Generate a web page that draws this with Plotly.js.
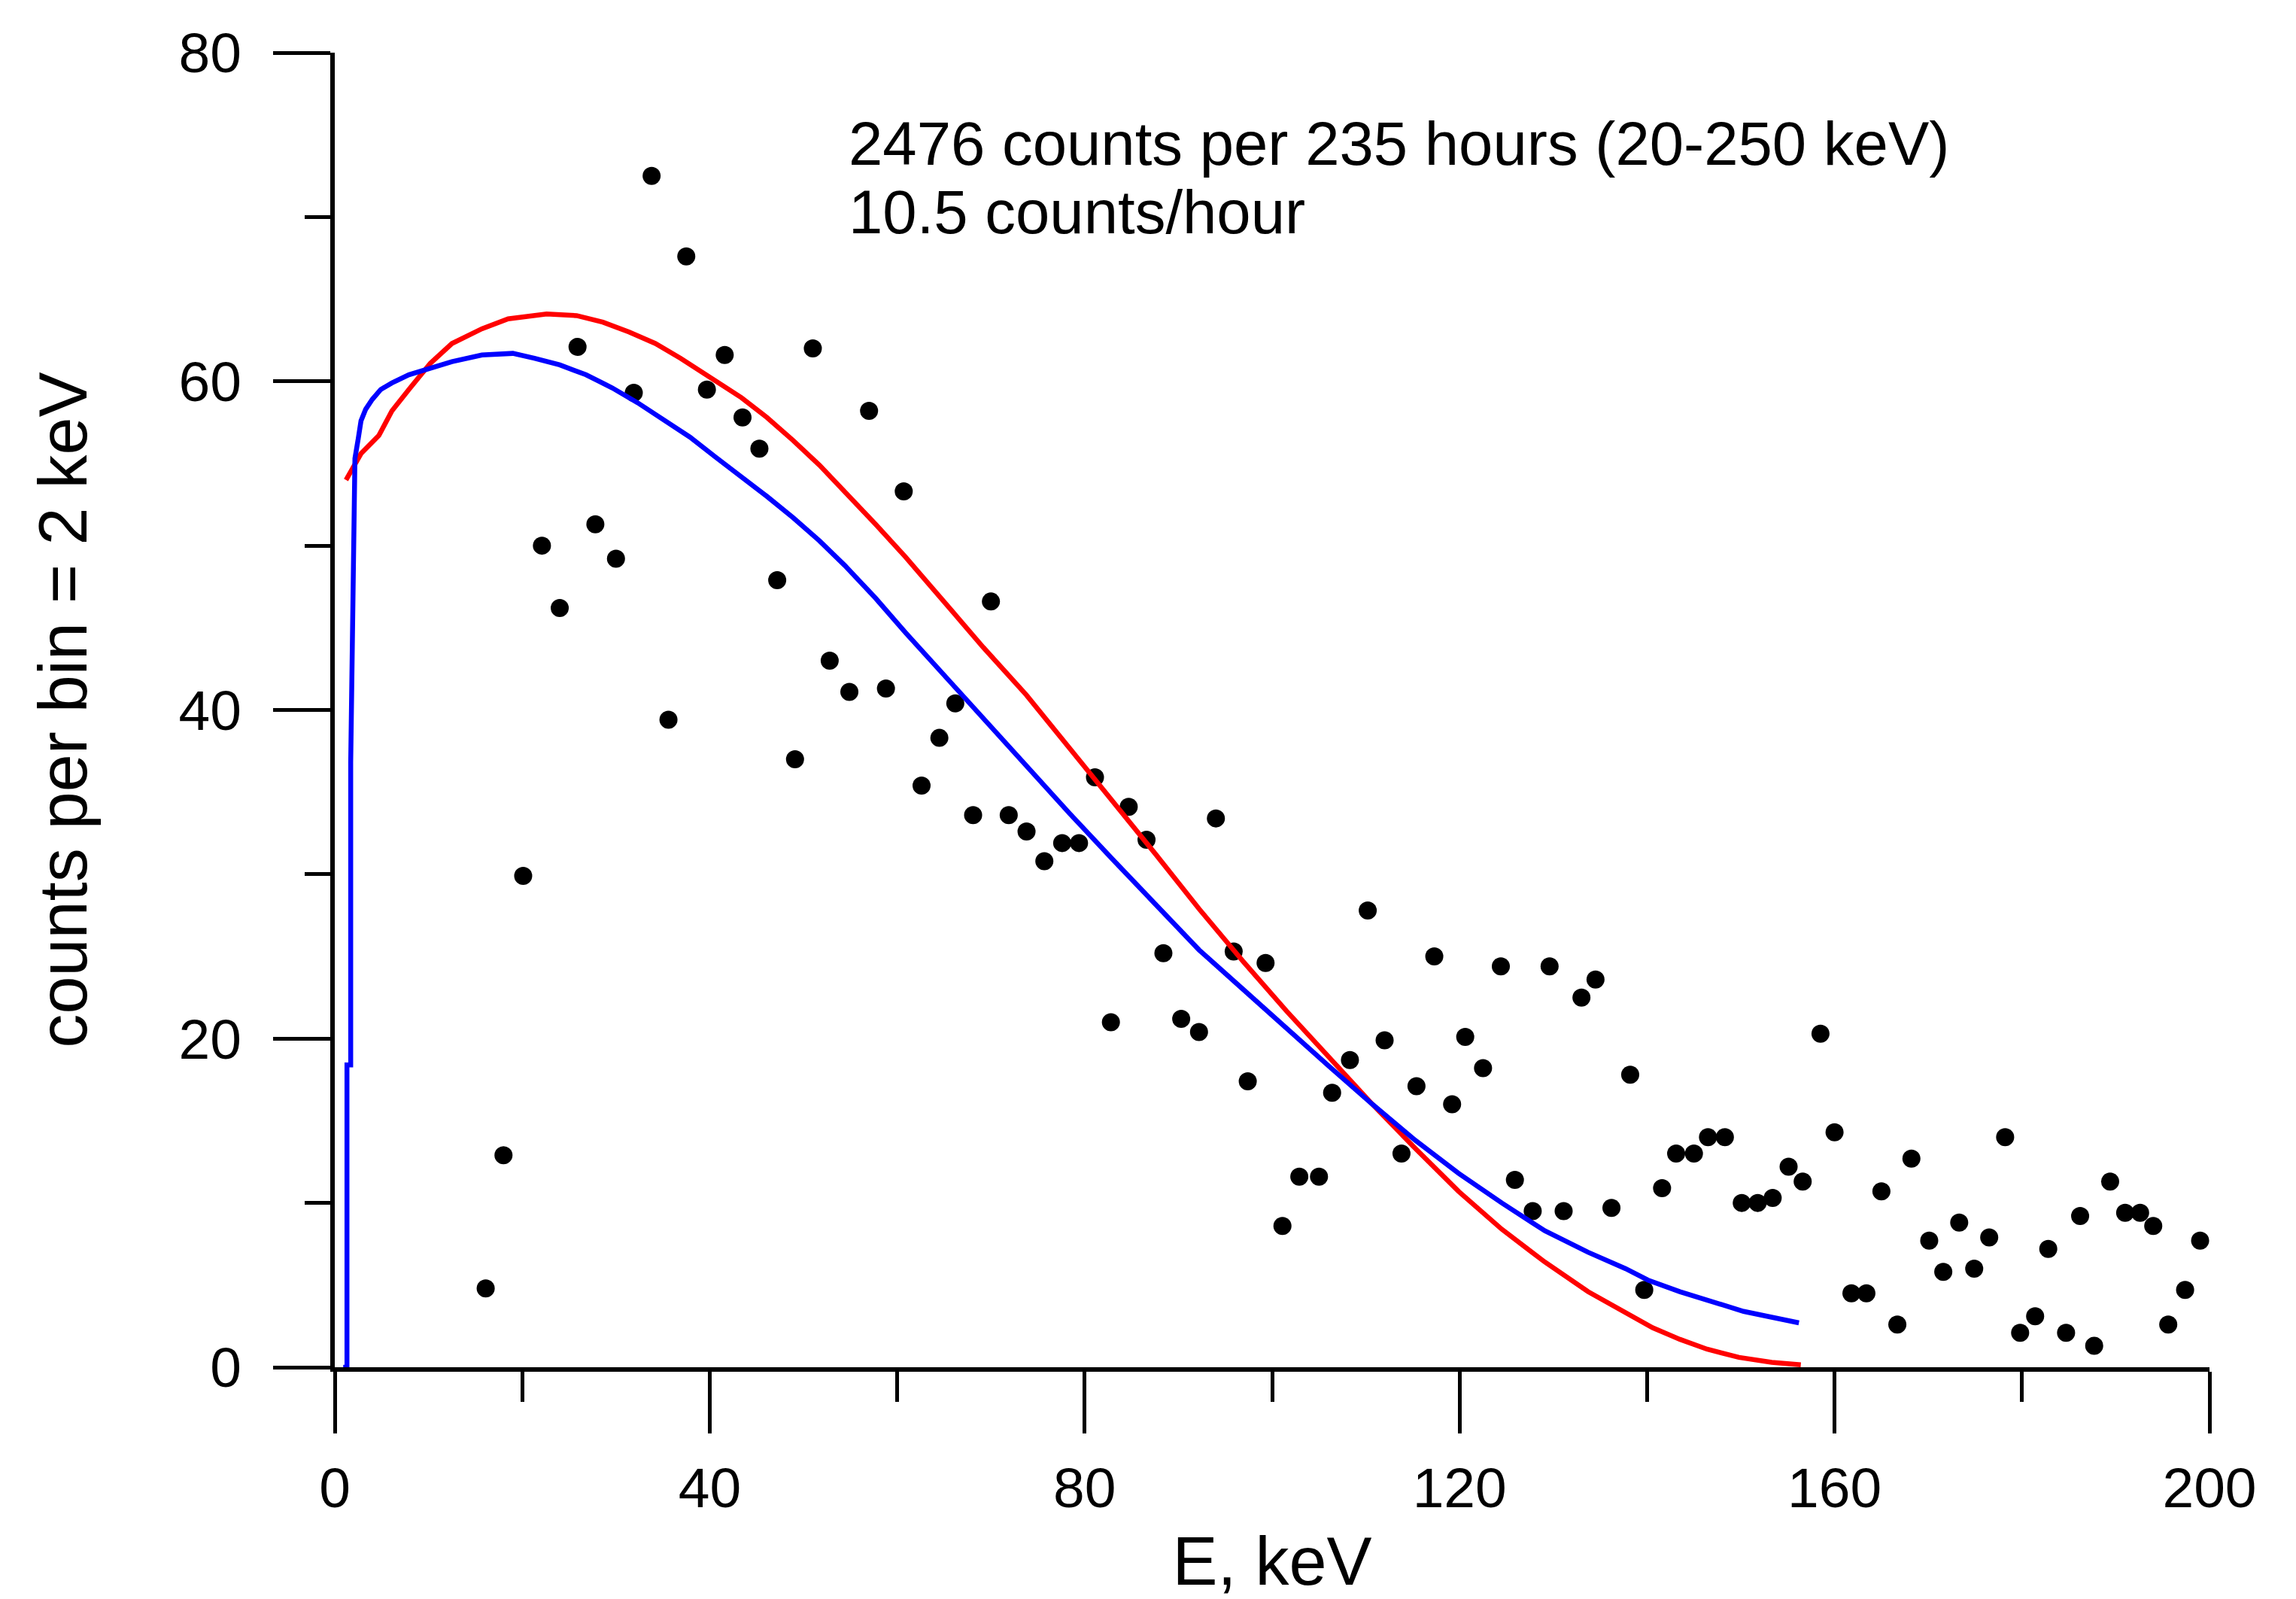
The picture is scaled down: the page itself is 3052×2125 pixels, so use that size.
<!DOCTYPE html>
<html>
<head>
<meta charset="utf-8">
<script src="https://cdn.plot.ly/plotly-3.0.1.min.js"></script>
<style>
  html, body { margin: 0; padding: 0; background: #ffffff; }
  #chart { width: 3052px; height: 2125px; }
</style>
</head>
<body>
<div id="chart"></div>
<script>
// ---- measured spectrum (counts per 2 keV bin) ----
const energy = [16.1, 18.0, 20.1, 22.1, 24.0, 25.9, 27.8, 30.0, 31.9, 33.8, 35.6, 37.5, 39.7, 41.6, 43.5, 45.3, 47.2, 49.1, 51.0, 52.8,
  54.9, 57.0, 58.8, 60.7, 62.6, 64.5, 66.2, 68.1, 70.0, 71.9, 73.8, 75.7, 77.6, 79.4, 81.1, 82.8, 84.7, 86.6, 88.4, 90.3,
  92.2, 94.0, 95.9, 97.4, 99.3, 101.1, 102.9, 105.0, 106.4, 108.3, 110.2, 112.0, 113.8, 115.4, 117.3, 119.2, 120.6, 122.5, 124.4, 125.9,
  127.8, 129.6, 131.1, 133.0, 134.5, 136.2, 138.2, 139.7, 141.6, 143.1, 145.0, 146.5, 148.3, 150.1, 151.8, 153.4, 155.1, 156.6, 158.5, 160.0,
  161.8, 163.4, 165.0, 166.7, 168.2, 170.1, 171.6, 173.3, 174.9, 176.5, 178.2, 179.8, 181.4, 182.8, 184.7, 186.2, 187.7, 189.4, 191.0, 192.6,
  194.0, 195.6, 197.4, 199.0];
const counts = [4.8, 12.9, 29.9, 50.0, 46.2, 62.1, 51.3, 49.2, 59.3, 72.5, 39.4, 67.6, 59.5, 61.6, 57.8, 55.9, 47.9, 37.0, 62.0, 43.0,
  41.1, 58.2, 41.3, 53.3, 35.4, 38.3, 40.4, 33.6, 46.6, 33.6, 32.6, 30.8, 31.9, 31.9, 35.9, 21.0, 34.1, 32.1, 25.2, 21.2,
  20.4, 33.4, 25.3, 17.4, 24.6, 8.6, 11.6, 11.6, 16.7, 18.7, 27.8, 19.9, 13.0, 17.1, 25.0, 16.0, 20.1, 18.2, 24.4, 11.4,
  9.5, 24.4, 9.5, 22.5, 23.6, 9.7, 17.8, 4.7, 10.9, 13.0, 13.0, 14.0, 14.0, 10.0, 10.0, 10.3, 12.2, 11.3, 20.3, 14.3,
  4.5, 4.5, 10.7, 2.6, 12.7, 7.7, 5.8, 8.8, 6.0, 7.9, 14.0, 2.1, 3.1, 7.2, 2.1, 9.2, 1.3, 11.3, 9.4, 9.4,
  8.6, 2.6, 4.7, 7.7];

// ---- red model curve ----
const redE = [1.2, 2.8, 4.7, 6.1, 7.9, 10.2, 12.5, 15.7, 18.5, 22.6, 25.8, 28.6, 31.4, 34.2, 36.9, 40.2, 43.4, 46.1, 48.9, 51.7,
  54.4, 57.7, 60.9, 63.6, 66.9, 69.2, 73.8, 78.4, 83.0, 87.6, 92.2, 96.9, 101.5, 106.1, 110.7, 115.3, 119.9, 124.5, 129.1, 133.7,
  137.7, 140.6, 143.5, 146.4, 149.8, 153.3, 156.4];
const redFit = [54.0, 55.6, 56.7, 58.2, 59.5, 61.1, 62.3, 63.2, 63.8, 64.1, 64.0, 63.6, 63.0, 62.3, 61.4, 60.2, 59.0, 57.8, 56.4, 54.9,
  53.3, 51.3, 49.3, 47.5, 45.3, 43.8, 40.9, 37.7, 34.5, 31.2, 27.9, 24.7, 21.7, 18.8, 16.0, 13.3, 10.7, 8.4, 6.4, 4.6,
  3.3, 2.4, 1.7, 1.1, 0.6, 0.3, 0.15];

// ---- blue model curve ----
const blueE = [0.9, 1.3, 1.3, 1.7, 1.7, 2.15, 2.5, 2.8, 3.3, 4.0, 4.9, 6.1, 7.9, 10.2, 12.5, 15.7, 19.0, 21.3, 24.0, 26.8,
  29.6, 32.3, 35.6, 37.9, 40.6, 43.4, 46.1, 48.9, 51.7, 54.4, 57.7, 60.9, 63.6, 66.9, 69.2, 73.8, 78.4, 83.0, 87.6, 92.2,
  96.9, 101.5, 106.1, 110.7, 115.3, 119.9, 124.5, 129.1, 133.7, 137.7, 140.1, 143.5, 146.9, 150.3, 152.8, 156.2];
const blueFit = [0.0, 0.0, 18.4, 18.4, 36.8, 55.3, 56.5, 57.6, 58.3, 58.9, 59.5, 59.9, 60.4, 60.8, 61.2, 61.6, 61.7, 61.4, 61.0, 60.4,
  59.6, 58.7, 57.5, 56.6, 55.4, 54.2, 53.0, 51.7, 50.3, 48.8, 46.8, 44.7, 43.0, 40.9, 39.5, 36.6, 33.7, 30.9, 28.1, 25.4,
  23.0, 20.6, 18.3, 16.0, 13.8, 11.8, 10.0, 8.3, 7.0, 6.0, 5.3, 4.6, 4.0, 3.4, 3.1, 2.7];

// ---- texts ----
const xTitle = 'E, keV';
const yTitle = 'counts per bin = 2 keV';
const noteLine1 = '2476 counts per 235 hours (20-250 keV)';
const noteLine2 = '10.5 counts/hour';

const FONT = '"Liberation Sans", Arial, sans-serif';

const traces = [
  {
    x: energy, y: counts, type: 'scatter', mode: 'markers',
    marker: { color: '#000000', size: 24, line: { width: 0 } },
    cliponaxis: false, showlegend: false, hoverinfo: 'x+y'
  },
  {
    x: redE, y: redFit, type: 'scatter', mode: 'lines',
    line: { color: '#ff0000', width: 6.5 }, showlegend: false
  },
  {
    x: blueE, y: blueFit, type: 'scatter', mode: 'lines',
    line: { color: '#0000ff', width: 6.5 }, showlegend: false
  }
];

const layout = {
  width: 3052, height: 2125,
  margin: { l: 445, r: 115, t: 70, b: 308, pad: 0 },
  paper_bgcolor: '#ffffff', plot_bgcolor: '#ffffff',
  font: { family: FONT, color: '#000000', size: 74 },
  showlegend: false,
  xaxis: {
    range: [0, 200], tick0: 0, dtick: 40,
    showgrid: false, zeroline: false,
    showline: true, linecolor: '#000000', linewidth: 6,
    ticks: 'outside', ticklen: 82, tickwidth: 5, tickcolor: '#000000',
    minor: { dtick: 20, tick0: 0, ticks: 'outside', ticklen: 40, tickwidth: 5, tickcolor: '#000000', showgrid: false },
    tickfont: { family: FONT, size: 75, color: '#000000' },
    ticklabelstandoff: 8,
    title: { text: xTitle, font: { family: FONT, size: 90, color: '#000000' }, standoff: 40 }
  },
  yaxis: {
    range: [0, 80], tick0: 0, dtick: 20,
    showgrid: false, zeroline: false,
    showline: true, linecolor: '#000000', linewidth: 6,
    ticks: 'outside', ticklen: 76, tickwidth: 5, tickcolor: '#000000',
    minor: { dtick: 10, tick0: 0, ticks: 'outside', ticklen: 34, tickwidth: 5, tickcolor: '#000000', showgrid: false },
    tickfont: { family: FONT, size: 75, color: '#000000' },
    ticklabelstandoff: 27,
    title: { text: yTitle, font: { family: FONT, size: 90, color: '#000000' }, standoff: 94 }
  },
  annotations: [
    {
      text: noteLine1, xref: 'paper', yref: 'paper', x: 0.2731, y: 0.9313,
      xanchor: 'left', yanchor: 'middle', showarrow: false, align: 'left',
      font: { family: FONT, size: 81.5, color: '#000000' }
    },
    {
      text: noteLine2, xref: 'paper', yref: 'paper', x: 0.2731, y: 0.8787,
      xanchor: 'left', yanchor: 'middle', showarrow: false, align: 'left',
      font: { family: FONT, size: 81.5, color: '#000000' }
    }
  ]
};

Plotly.newPlot('chart', traces, layout, { staticPlot: true, displayModeBar: false });
</script>
</body>
</html>
